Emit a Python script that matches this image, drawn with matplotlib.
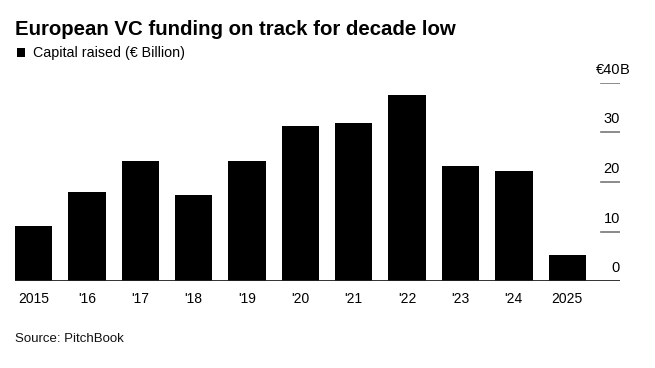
import matplotlib.pyplot as plt
from matplotlib.patches import Rectangle
from matplotlib.transforms import blended_transform_factory, offset_copy

plt.rcParams['font.family'] = ['Liberation Sans', 'DejaVu Sans']

years = ['2015', "'16", "'17", "'18", "'19", "'20", "'21", "'22", "'23", "'24", '2025']
capital = [11.2, 18.0, 24.3, 17.4, 24.3, 31.3, 31.9, 37.6, 23.2, 22.3, 5.2]
yticks = [0, 10, 20, 30, 40]

W, H = 655, 368
fig = plt.figure(figsize=(W / 100, H / 100), dpi=100)
ax = fig.add_axes([15 / W, (H - 281.2) / H, (620 - 15) / W, (281.2 - 82.7) / H])

x = range(len(years))
ax.bar(x, capital, width=0.7, color='black', edgecolor='none')
ax.set_xlim(-0.35, 10.99)
ax.set_ylim(0, 40)

for s in ax.spines.values():
    s.set_visible(False)
ax.set_yticks([])
ax.set_xticks(list(x))
ax.set_xticklabels(years, fontsize=10)
ax.tick_params(axis='x', length=0, pad=8)

ax.axhline(0, color='#222222', lw=1.3, zorder=3)
for v in yticks[1:]:
    ax.axhline(v, xmin=(601 - 15) / (620 - 15), xmax=1, color='#777777', lw=1.2)

trans = blended_transform_factory(ax.transAxes, ax.transData)
trans = offset_copy(trans, fig=fig, x=0, y=6, units='dots')
for v in yticks:
    if v == 40:
        ax.text(1.0, v, '€40', transform=trans, ha='right', va='bottom', fontsize=10.5)
        ax.text(1.0, v, 'B', transform=trans, ha='left', va='bottom', fontsize=10.5)
    else:
        ax.text(1.0, v, str(v), transform=trans, ha='right', va='bottom', fontsize=10.5)

fig.text(15 / W, 1 - 35 / H, 'European VC funding on track for decade low',
         fontsize=14.7, fontweight='bold', ha='left', va='baseline')
fig.patches.append(Rectangle((16.5 / W, 1 - 56.7 / H), 8.5 / W, 9 / H,
                             transform=fig.transFigure, facecolor='black',
                             linewidth=0))
fig.text(33 / W, 1 - 56.7 / H, 'Capital raised (€ Billion)', fontsize=10.3,
         ha='left', va='baseline')
fig.text(15 / W, 1 - 341.7 / H, 'Source: PitchBook', fontsize=9.5,
         ha='left', va='baseline', color='#111111')

fig.savefig('out.png', dpi=100)
